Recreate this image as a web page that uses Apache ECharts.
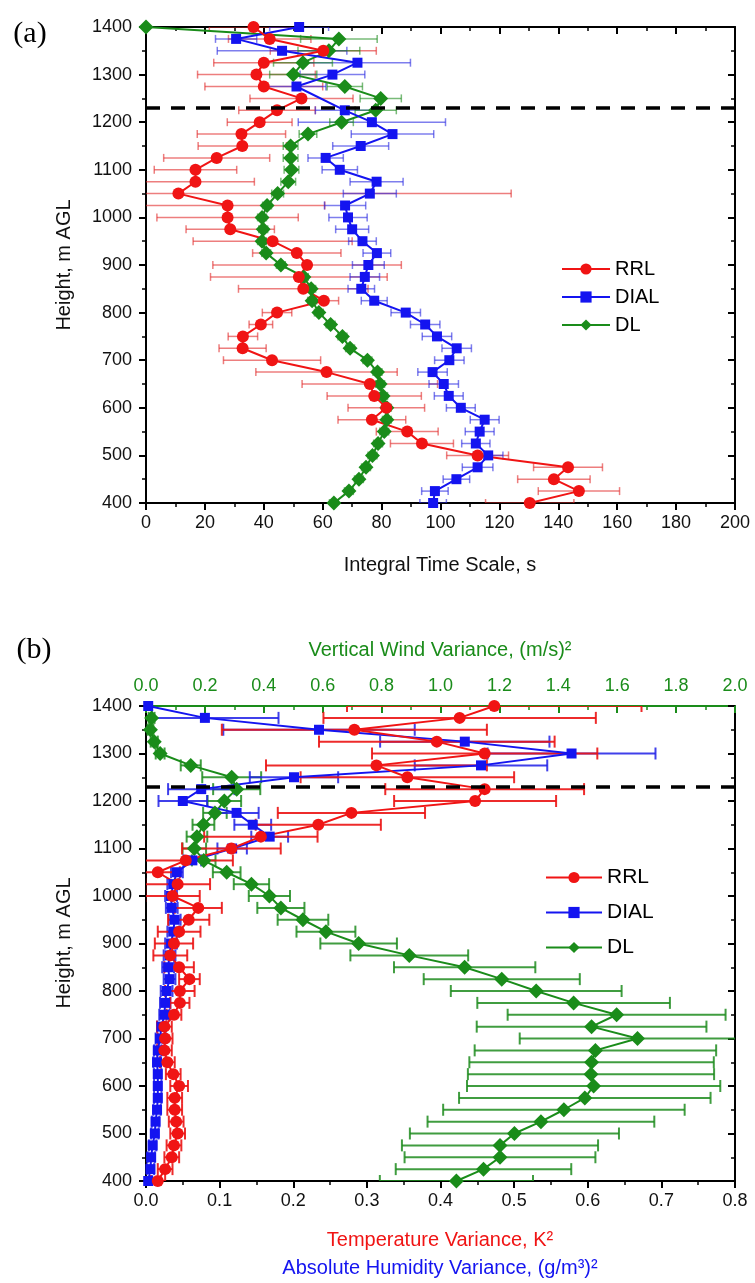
<!DOCTYPE html>
<html>
<head>
<meta charset="utf-8">
<script src="https://cdn.jsdelivr.net/npm/echarts@6/dist/echarts.min.js"></script>
<style>
html,body{margin:0;padding:0;background:#fff;}
#chart{width:755px;height:1283px;}
</style>
</head>
<body>
<div id="chart"></div>
<script>
// ---------- DATA ----------
const heights = [1400,1375,1350,1325,1300,1275,1250,1225,1200,1175,1150,1125,1100,1075,1050,1025,1000,975,950,925,900,875,850,825,800,775,750,725,700,675,650,625,600,575,550,525,500,475,450,425,400];
const DASH_HEIGHT = 1231;

// Panel (a): integral time scale, s
const aRRL = [36.5,42,60.2,40,37.5,40,52.8,44.5,38.6,32.4,32.7,24,16.8,16.8,11,27.7,27.7,28.6,43,51.2,54.7,51.9,53.4,60.4,44.5,39,32.9,32.8,42.8,61.3,76,77.5,81.6,76.7,88.7,93.7,112.6,143.3,138.5,147,130.3];
const aRRLerr = [15,14,18,17,20,20,17.5,13,11,15,15,18,14,20,113,33,24,15,27,15,32,30,22,5,5,4,5,8,16.5,24,23,16,13,11.5,10.5,10.7,10.5,11.7,12.3,13.8,15];
const aDIAL = [52,30.6,46.2,71.8,63.3,51.1,null,67.5,76.7,83.7,72.9,61,65.8,78.3,76,67.6,68.6,70,73.5,78.4,75.5,74.3,73.1,77.5,88.2,94.8,98.8,105.5,103,97.3,101.1,102.8,106.9,115,113.3,112,116.2,112.6,105.4,98.1,97.5];
const aDIALerr = [10,7,22,18,11,10,null,10,25,14,9.5,6,6,9,9,7,6.5,5.6,4.7,4.7,5.4,5,4.5,4.4,5,5,5,5,5,5,5,4.9,4.9,4.9,4.9,4.8,5,5.2,4.5,4.5,4.5];
const aDL = [0,65.5,62.1,53.3,50,67.5,79.7,78,66.4,55,49.1,49.1,49.4,48.3,44.7,41.1,39.4,39.8,39.4,40.8,45.8,53.6,56.1,56.4,58.7,62.7,66.7,69.3,75.2,78.6,79.5,80.5,81.8,81.8,80.9,78.8,76.9,74.7,72.3,68.9,63.8];
const aDLerr = [0,13,10.5,10,8,6,7,7,4,3,2.5,2.5,2.5,2.5,2,1.5,1.5,1.5,1.5,1.5,1.5,1.5,1.5,1.5,1.5,1.5,1.5,1.5,1.5,1.5,1.5,1.5,1.5,1.5,1.5,1.5,1.5,1.5,1.5,1.5,1.5];

// Panel (b): variances
const bRRL = [0.473,0.426,0.283,0.395,0.46,0.313,0.355,0.46,0.447,0.279,0.234,0.156,0.116,0.054,0.016,0.043,0.036,0.071,0.058,0.045,0.038,0.033,0.045,0.059,0.046,0.046,0.038,0.025,0.026,0.025,0.029,0.037,0.045,0.039,0.039,0.041,0.043,0.038,0.035,0.026,0.016];
const bRRLerr = [0.2,0.185,0.18,0.16,0.153,0.15,0.145,0.135,0.11,0.1,0.085,0.077,0.067,0.064,0.03,0.044,0.037,0.032,0.028,0.029,0.026,0.023,0.02,0.014,0.02,0.013,0.01,0.01,0.01,0.01,0.01,0.01,0.012,0.01,0.01,0.01,0.01,0.01,0.01,0.01,0.01];
const bDIAL = [0.003,0.08,0.235,0.433,0.578,0.455,0.201,0.075,0.05,0.123,0.145,0.168,0.117,0.063,0.042,0.037,0.034,0.035,0.039,0.037,0.034,0.032,0.03,0.032,0.028,0.026,0.025,0.021,0.019,0.016,0.015,0.016,0.016,0.016,0.015,0.013,0.012,0.009,0.007,0.006,0.003];
const bDIALerr = [0.005,0.1,0.13,0.115,0.114,0.09,0.06,0.045,0.033,0.03,0.025,0.025,0.02,0.012,0.008,0.008,0.008,0.008,0.008,0.008,0.008,0.008,0.008,0.008,0.008,0.007,0.007,0.006,0.006,0.005,0.005,0.005,0.005,0.005,0.005,0.005,0.005,0.005,0.005,0.005,0.005];
const bDL = [null,0.019,0.015,0.028,0.048,0.152,0.291,0.308,0.266,0.234,0.195,0.173,0.164,0.196,0.274,0.358,0.419,0.458,0.533,0.611,0.722,0.894,1.082,1.208,1.325,1.452,1.598,1.513,1.669,1.526,1.513,1.511,1.52,1.49,1.419,1.341,1.251,1.202,1.202,1.146,1.054];
const bDLerr = [null,0.01,0.01,0.012,0.015,0.034,0.1,0.08,0.057,0.04,0.037,0.035,0.04,0.04,0.047,0.06,0.07,0.08,0.086,0.1,0.13,0.2,0.24,0.265,0.29,0.327,0.37,0.39,0.4,0.41,0.415,0.418,0.43,0.427,0.41,0.385,0.355,0.333,0.324,0.298,0.26];

const xTicksA = {min:0, max:200, interval:20};
const xTicksBbottom = {min:0, max:0.8, interval:0.1};
const xTicksBtop = {min:0, max:2.0, interval:0.2};
const yTicks = {min:400, max:1400, interval:100};

// ---------- STYLE ----------
const RED = '#f01414', BLUE = '#1414f0', GREEN = '#1a8c1a';
const FONT = 'Liberation Sans, Arial, sans-serif';

function pts(vals){ return vals.map((v,i)=>[v, heights[i]]); }
function errPts(vals, errs){
  const out = [];
  vals.forEach((v,i)=>{ if(v!==null && errs[i]!==null) out.push([v, heights[i], errs[i]]); });
  return out;
}
function errRender(cap, color, width){
  return function(params, api){
    const x = api.value(0), y = api.value(1), e = api.value(2);
    const p1 = api.coord([x - e, y]);
    const p2 = api.coord([x + e, y]);
    const st = {stroke: color, lineWidth: width};
    return {type:'group', children:[
      {type:'line', shape:{x1:p1[0],y1:p1[1],x2:p2[0],y2:p2[1]}, style:st},
      {type:'line', shape:{x1:p1[0],y1:p1[1]-cap,x2:p1[0],y2:p1[1]+cap}, style:st},
      {type:'line', shape:{x1:p2[0],y1:p2[1]-cap,x2:p2[0],y2:p2[1]+cap}, style:st}
    ]};
  };
}
function errSeries(vals, errs, color, width, cap, xi, yi){
  return {type:'custom', silent:true, clip:true, xAxisIndex:xi, yAxisIndex:yi, z:1,
    renderItem: errRender(cap, color, width), encode:{x:0,y:1}, data: errPts(vals, errs)};
}
function lineSeries(name, vals, color, symbol, size, xi, yi, extra){
  return Object.assign({type:'line', name:name, data:pts(vals), xAxisIndex:xi, yAxisIndex:yi,
    connectNulls:true, symbol:symbol, symbolSize:size, showSymbol:true, z:3,
    lineStyle:{color:color, width:2}, itemStyle:{color:color, borderWidth:0}, animation:false}, extra||{});
}

function xAxisMain(grid, t, pos, color, showLabels, inside){
  return {type:'value', gridIndex:grid, position:pos, min:t.min, max:t.max, interval:t.interval,
    axisLine:{show:true, onZero:false, lineStyle:{color:color, width:2}},
    axisTick:{show:true, inside:inside, length:7, lineStyle:{color:color, width:2}},
    minorTick:{show:true, splitNumber:2, length:4, lineStyle:{color:color, width:1.5}},
    splitLine:{show:false},
    axisLabel:{show:showLabels, margin:11, fontSize:18, fontFamily:FONT, color: color==='#000' ? '#111' : color,
      formatter: function(v){ return t.interval < 1 ? v.toFixed(1) : String(v); }}};
}
function yAxisMain(grid, pos, showLabels, inside){
  return {type:'value', gridIndex:grid, position:pos, min:yTicks.min, max:yTicks.max, interval:yTicks.interval,
    axisLine:{show:true, onZero:false, lineStyle:{color:'#000', width:2}},
    axisTick:{show:true, inside:inside, length:7, lineStyle:{color:'#000', width:2}},
    minorTick:{show:true, splitNumber:2, length:4, lineStyle:{color:'#000', width:1.5}},
    splitLine:{show:false},
    axisLabel:{show:showLabels, margin:14, fontSize:18, fontFamily:FONT, color:'#111',
      formatter: function(v){ return String(v); }}};
}

const dashLine = {silent:true, symbol:['none','none'], label:{show:false},
  lineStyle:{color:'#000', type:[14,11], width:3.5}, data:[{yAxis: DASH_HEIGHT}]};

const option = {
  animation:false,
  backgroundColor:'#fff',
  grid:[
    {left:146, right:20, top:27, height:476},
    {left:146, right:20, top:706, height:475}
  ],
  xAxis:[
    xAxisMain(0, xTicksA, 'bottom', '#000', true, false),
    xAxisMain(0, xTicksA, 'top', '#000', false, true),
    xAxisMain(1, xTicksBbottom, 'bottom', '#000', true, false),
    xAxisMain(1, xTicksBtop, 'top', GREEN, true, true)
  ],
  yAxis:[
    yAxisMain(0, 'left', true, false),
    yAxisMain(0, 'right', false, true),
    yAxisMain(1, 'left', true, false),
    yAxisMain(1, 'right', false, true)
  ],
  legend:[
    {data:['RRL','DIAL','DL'], orient:'vertical', left:556, top:254, itemWidth:48, itemHeight:14, itemGap:8,
      selectedMode:false, textStyle:{fontSize:20, fontFamily:FONT, color:'#000'}},
    {data:['RRL','DIAL','DL'], orient:'vertical', left:540, top:862, itemWidth:56, itemHeight:14, itemGap:14,
      selectedMode:false, textStyle:{fontSize:21, fontFamily:FONT, color:'#000'}}
  ],
  graphic:[
    {type:'text', x:30, y:34, style:{text:'(a)', font:'30px "Liberation Serif", serif', fill:'#000', align:'center', verticalAlign:'middle'}},
    {type:'text', x:34, y:650, style:{text:'(b)', font:'30px "Liberation Serif", serif', fill:'#000', align:'center', verticalAlign:'middle'}},
    {type:'text', x:64, y:265, rotation:Math.PI/2, style:{text:'Height, m AGL', font:'20px "Liberation Sans", Arial', fill:'#111', align:'center', verticalAlign:'middle'}},
    {type:'text', x:64, y:943, rotation:Math.PI/2, style:{text:'Height, m AGL', font:'20px "Liberation Sans", Arial', fill:'#111', align:'center', verticalAlign:'middle'}},
    {type:'text', x:440, y:565, style:{text:'Integral Time Scale, s', font:'20px "Liberation Sans", Arial', fill:'#111', align:'center', verticalAlign:'middle'}},
    {type:'text', x:440, y:650, style:{text:'Vertical Wind Variance, (m/s)²', font:'20px "Liberation Sans", Arial', fill:GREEN, align:'center', verticalAlign:'middle'}},
    {type:'text', x:440, y:1240, style:{text:'Temperature Variance, K²', font:'20px "Liberation Sans", Arial', fill:RED, align:'center', verticalAlign:'middle'}},
    {type:'text', x:440, y:1268, style:{text:'Absolute Humidity Variance, (g/m³)²', font:'20px "Liberation Sans", Arial', fill:BLUE, align:'center', verticalAlign:'middle'}}
  ],
  series:[
    // panel (a) error bars
    errSeries(aRRL, aRRLerr, 'rgba(225,40,40,0.6)', 1.5, 4, 0, 0),
    errSeries(aDIAL, aDIALerr, 'rgba(40,40,225,0.6)', 1.5, 4, 0, 0),
    errSeries(aDL, aDLerr, 'rgba(30,140,30,0.6)', 1.5, 4, 0, 0),
    // panel (a) lines
    lineSeries('DL', aDL, GREEN, 'diamond', [15,15], 0, 0),
    lineSeries('DIAL', aDIAL, BLUE, 'rect', 10, 0, 0),
    lineSeries('RRL', aRRL, RED, 'circle', 12, 0, 0, {markLine: dashLine}),
    // panel (b) error bars
    errSeries(bDL, bDLerr, 'rgba(30,140,30,0.85)', 2, 6, 3, 2),
    errSeries(bDIAL, bDIALerr, 'rgba(30,30,230,0.85)', 2, 6, 2, 2),
    errSeries(bRRL, bRRLerr, 'rgba(235,20,20,0.9)', 2, 6, 2, 2),
    // panel (b) lines
    lineSeries('DL', bDL, GREEN, 'diamond', [15,15], 3, 2, {connectNulls:false}),
    lineSeries('DIAL', bDIAL, BLUE, 'rect', 10, 2, 2),
    lineSeries('RRL', bRRL, RED, 'circle', 12, 2, 2, {markLine: dashLine})
  ]
};

const chart = echarts.init(document.getElementById('chart'), null, {renderer:'canvas'});
chart.setOption(option);
</script>
</body>
</html>
